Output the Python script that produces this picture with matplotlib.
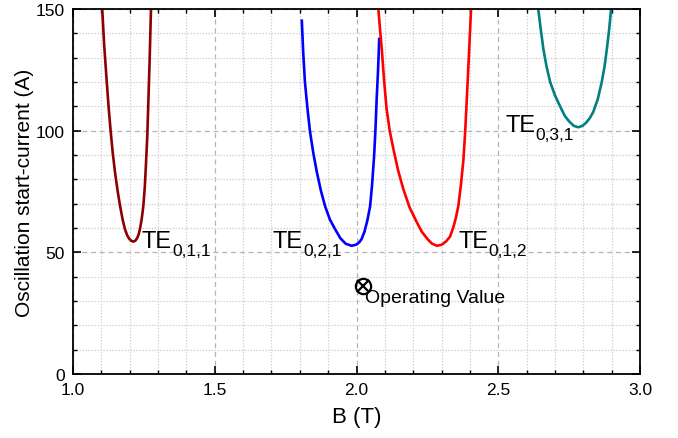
import numpy as np
import matplotlib.pyplot as plt
from matplotlib.ticker import MultipleLocator
from matplotlib.transforms import offset_copy

plt.rcParams['font.family'] = ['Liberation Sans', 'DejaVu Sans']

# start-current curves for each mode: magnetic field B (T) vs current (A)
b_011 = [1.100, 1.103, 1.110, 1.119, 1.126, 1.133, 1.140, 1.148, 1.157, 1.166, 1.175, 1.183, 1.191, 1.198,
         1.206, 1.213, 1.220, 1.226, 1.231, 1.236, 1.242, 1.248, 1.253, 1.257, 1.262, 1.266, 1.270, 1.275, 1.276]
i_011 = [156, 150, 135, 120, 109, 99.5, 91, 83, 75.5, 69, 63.5, 59.6, 57, 55.6,
         54.7, 54.4, 54.8, 55.8, 57.2, 59.5, 63.5, 69, 76.5, 85.5, 98, 113, 128, 150, 156]

b_021 = [1.807, 1.812, 1.818, 1.827, 1.836, 1.848, 1.860, 1.874, 1.889, 1.906, 1.924, 1.943, 1.962,
         1.983, 2.000, 2.010, 2.018, 2.028, 2.038, 2.048, 2.055, 2.062, 2.067, 2.071, 2.076, 2.080]
i_021 = [145.2, 132, 120, 109, 99.5, 90.5, 83, 75.5, 69, 63.5, 59.6, 55.8, 53.5,
         52.7, 53.2, 54.2, 55.5, 58.5, 63, 69, 78, 89.6, 101, 113, 125, 137.7]

b_012 = [2.075, 2.077, 2.083, 2.089, 2.097, 2.106, 2.117, 2.130, 2.146, 2.165, 2.187, 2.212, 2.230, 2.250,
         2.266, 2.283, 2.300, 2.316, 2.330, 2.342, 2.351, 2.359, 2.368, 2.377, 2.383, 2.389, 2.396, 2.404, 2.406]
i_012 = [156, 150, 141.5, 133.6, 121, 109, 100, 92.5, 84, 76, 68.5, 62.5, 58.5, 55.5,
         53.6, 52.7, 53.1, 54.5, 56.5, 60.5, 64.5, 69, 77.5, 88, 99, 113, 130, 150, 156]

b_031 = [2.638, 2.641, 2.650, 2.659, 2.670, 2.683, 2.700, 2.718, 2.735, 2.750, 2.766, 2.782,
         2.797, 2.810, 2.823, 2.835, 2.851, 2.865, 2.875, 2.883, 2.891, 2.898, 2.900]
i_031 = [156, 150, 141.5, 133.6, 126.5, 120, 114.5, 110, 106, 103.8, 102, 101.4,
         102, 103.3, 105.2, 107.7, 113, 120, 126.5, 133.6, 141.5, 150, 156]

op_b = 2.024
op_i = 36.3

modes = ['0,1,1', '0,2,1', '0,1,2', '0,3,1']
label_b = [1.243, 1.705, 2.358, 2.524]
label_i = [52.2, 52.2, 52.2, 99.9]

fig = plt.figure(figsize=(6.78, 4.39), dpi=100)
ax = fig.add_axes([0.1077, 0.1458, 0.8363, 0.8314])

ax.plot(b_011, i_011, color='#8b0000', lw=1.9)
ax.plot(b_021, i_021, color='#0000ff', lw=1.9)
ax.plot(b_012, i_012, color='#ff0000', lw=1.9)
ax.plot(b_031, i_031, color='#008080', lw=1.9)

ax.plot(op_b, op_i, 'o', ms=11, mfc='none', mec='black', mew=1.6)
ax.plot(op_b, op_i, 'x', ms=8, mec='black', mew=1.6)
ax.text(op_b + 0.005, op_i - 5, 'Operating Value', fontsize=14, va='center', ha='left')

# mode labels: "TE" plus a smaller subscript shifted right and down
for m, xb, yi in zip(modes, label_b, label_i):
    ax.text(xb, yi, 'TE', fontsize=17, va='baseline', ha='left')
    tr = offset_copy(ax.transData, fig=fig, x=21.8, y=-5.5, units='points')
    ax.text(xb, yi, m, fontsize=12.5, va='baseline', ha='left', transform=tr)

ax.set_xlim(1.0, 3.0)
ax.set_ylim(0, 150)
ax.xaxis.set_major_locator(MultipleLocator(0.5))
ax.xaxis.set_minor_locator(MultipleLocator(0.1))
ax.yaxis.set_major_locator(MultipleLocator(50))
ax.yaxis.set_minor_locator(MultipleLocator(10))
ax.xaxis.set_major_formatter(plt.FormatStrFormatter('%.1f'))

ax.grid(which='major', color='#b4b4b4', ls=(0, (4, 3)), lw=0.9)
ax.grid(which='minor', color='#d2d2d2', ls=(0, (1.2, 1.2)), lw=0.9)
ax.set_axisbelow(True)

ax.tick_params(which='both', direction='in', top=True, right=True, labelsize=12.5, pad=6)
ax.tick_params(which='major', length=6, width=1.2)
ax.tick_params(which='minor', length=3, width=1.0)
for s in ax.spines.values():
    s.set_linewidth(1.3)

ax.set_xlabel('B (T)', fontsize=16, labelpad=6)
ax.set_ylabel('Oscillation start-current (A)', fontsize=15, labelpad=1)

fig.savefig('out.png', dpi=100)
